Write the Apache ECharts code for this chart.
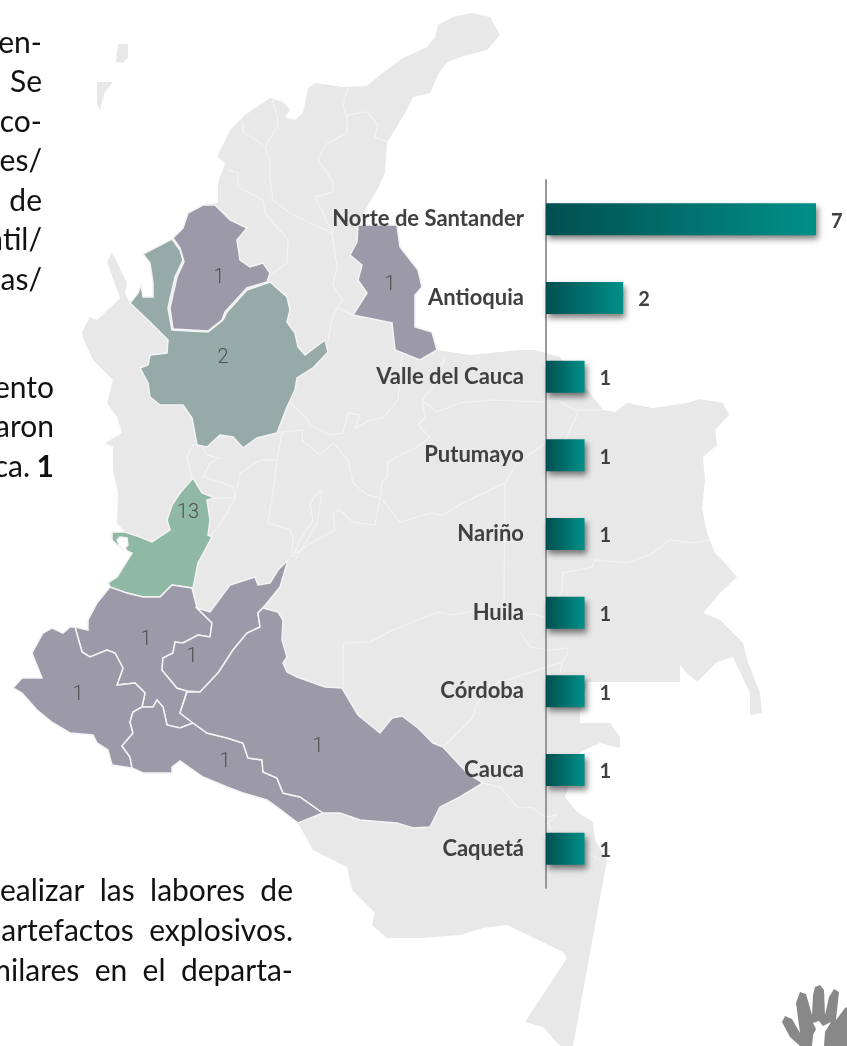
<!DOCTYPE html>
<html>
<head>
<meta charset="utf-8">
<title>Departamentos</title>
<script src="https://cdn.jsdelivr.net/npm/echarts@6/dist/echarts.min.js"></script>
<style>
  html, body { margin: 0; padding: 0; background: #fff; }
  #main { width: 847px; height: 1046px; }
</style>
</head>
<body>
<div id="main"></div>
<script>
// barras
const categorias = ['Norte de Santander', 'Antioquia', 'Valle del Cauca', 'Putumayo', 'Nariño', 'Huila', 'Córdoba', 'Cauca', 'Caquetá'];
const valores = [7, 2, 1, 1, 1, 1, 1, 1, 1];

// conteos del mapa
const regionesMapa = ['Córdoba', 'Antioquia', 'Norte de Santander', 'Valle del Cauca', 'Cauca', 'Huila', 'Nariño', 'Putumayo', 'Caquetá'];
const casosMapa = [1, 2, 1, 13, 1, 1, 1, 1, 1];

// texto de la pagina, cortado por el borde como en el original
const textoArriba = ['en-', 'Se', 'co-', 'es/', 'de', 'ntil/', 'as/'];
const textoMedio = ['ento', 'aron'];
const textoAbajo = ['ealizar  las  labores  de', 'artefactos  explosivos.', 'milares  en  el  departa-'];

// contornos trazados a mano sobre la imagen
const contornoPais = [[470,13],[490,17],[500,35],[487,50],[467,55],[447,62],[438,75],[430,93],[413,97],[405,113],[393,133],[387,142],[385,173],[377,190],[367,207],[358,225],[397,225],[400,247],[418,270],[422,287],[415,295],[415,327],[432,332],[437,350],[470,355],[520,350],[535,350],[560,357],[590,393],[603,410],[615,412],[627,403],[653,408],[687,403],[700,399],[723,403],[729,415],[715,430],[717,445],[703,457],[705,480],[702,508],[707,533],[715,553],[725,563],[737,577],[720,593],[703,613],[720,620],[743,643],[748,662],[760,693],[762,713],[750,715],[750,693],[733,657],[717,662],[697,682],[687,673],[680,665],[680,682],[587,682],[580,713],[580,723],[610,723],[620,737],[620,748],[600,743],[580,752],[565,797],[577,812],[593,822],[595,840],[607,860],[573,1046],[560,1046],[543,1027],[525,1022],[567,958],[563,952],[532,937],[507,925],[483,928],[460,935],[420,938],[387,938],[372,925],[375,913],[352,890],[347,867],[313,850],[298,823],[277,807],[267,800],[243,793],[227,787],[203,777],[180,761],[172,767],[172,773],[143,773],[132,768],[112,765],[108,750],[97,743],[93,735],[70,733],[53,723],[37,710],[22,693],[13,688],[22,678],[42,678],[38,668],[32,653],[43,633],[52,628],[63,633],[70,627],[88,630],[88,620],[97,603],[110,588],[117,577],[132,553],[127,551],[125,548],[128,545],[127,538],[120,537],[117,540],[119,545],[122,549],[116,544],[112,540],[112,532],[125,532],[117,523],[118,493],[113,470],[113,447],[105,443],[122,433],[117,417],[107,403],[113,380],[93,360],[83,338],[82,332],[90,317],[97,320],[113,305],[120,298],[107,262],[112,252],[127,283],[125,293],[130,303],[138,293],[141,285],[143,297],[153,297],[153,283],[150,263],[143,254],[172,239],[183,228],[188,213],[203,205],[218,203],[218,183],[225,163],[217,157],[230,130],[245,115],[270,98],[283,102],[290,110],[285,117],[295,120],[303,113],[308,88],[315,83],[343,87],[367,86],[380,75],[403,58],[427,47],[435,37],[438,25],[453,17]];
const islaSanAndres = [[118,44],[128,44],[128,58],[122,63],[116,62]];
const islaProvidencia = [[97,82],[113,82],[105,92],[100,110],[97,105]];
const limitesInternos = [
  [[272,98],[277,117],[278,125],[265,147],[270,163],[270,177],[273,200],[290,213],[310,223],[332,233]],
  [[243,122],[243,132],[263,145]],
  [[228,170],[238,173],[238,187],[263,200],[265,213],[288,240],[287,263],[272,273]],
  [[348,87],[343,107],[347,117],[347,133],[325,145],[318,160],[333,182],[333,192],[315,197],[332,232],[337,267],[333,285],[343,300],[337,308],[353,315]],
  [[347,115],[367,112],[378,125],[375,137],[387,142]],
  [[337,308],[332,320],[328,340]],
  [[392,323],[395,350]],
  [[290,403],[307,418],[310,425],[330,435],[343,433],[348,413],[360,415],[355,428],[370,420],[383,418],[398,400],[400,373],[402,355]],
  [[445,357],[433,387],[422,400],[425,417],[418,425],[430,437],[417,447],[397,457],[388,462],[387,477],[382,482],[380,497]],
  [[422,400],[437,412],[460,403],[493,400],[543,402],[557,400],[575,410],[603,410]],
  [[578,413],[565,440],[543,445],[517,463],[505,483],[463,503],[443,515],[430,513],[400,522],[380,497]],
  [[505,483],[504,603]],
  [[282,432],[303,430],[302,440],[320,455],[333,443],[348,460],[353,483],[367,495],[380,498],[375,525],[353,522],[340,510],[333,513],[335,530],[313,542],[290,557]],
  [[282,432],[277,460],[273,490],[268,523],[290,530],[293,537],[292,553]],
  [[260,460],[277,460]],
  [[320,490],[310,503],[313,520],[300,540],[293,557]],
  [[320,490],[322,492],[317,523],[303,547],[295,560]],
  [[193,445],[187,457],[190,470],[192,478]],
  [[193,445],[220,437],[282,432]],
  [[203,448],[207,455],[220,458],[210,463],[203,477],[220,482],[233,487],[235,498],[215,498]],
  [[235,498],[225,517],[210,537]],
  [[235,498],[240,473],[260,460]],
  [[343,643],[343,688]],
  [[343,643],[370,642],[393,630],[413,622],[437,612],[453,615],[477,610],[515,612],[537,615],[545,617],[550,612],[562,590],[563,573],[592,567],[595,560],[627,563],[653,553],[670,540],[693,543],[710,540]],
  [[520,632],[530,647],[550,650],[568,648],[567,655],[562,662],[560,673]],
  [[443,747],[473,717],[477,703],[497,683],[547,667],[562,662]],
  [[483,783],[500,787],[517,807],[533,808],[545,817],[557,815],[548,823],[555,837]],
  [[588,853],[600,860]]
];
const formaCordoba = [[173,238],[183,228],[188,213],[203,205],[215,205],[230,220],[247,228],[237,240],[240,260],[250,267],[263,263],[270,273],[267,282],[247,288],[225,312],[222,320],[208,331],[173,329],[170,308],[177,277],[184,262],[180,248]];
const formaAntioquia = [[172,239],[143,254],[150,263],[153,283],[153,297],[143,297],[141,285],[138,293],[130,303],[150,322],[168,340],[167,353],[150,355],[148,365],[140,368],[148,383],[150,397],[160,405],[183,405],[192,418],[197,445],[207,447],[220,435],[233,437],[243,448],[257,438],[277,433],[287,407],[295,390],[297,378],[313,368],[328,352],[325,340],[305,355],[298,347],[295,333],[287,322],[290,310],[287,297],[270,282],[247,290],[227,312],[223,320],[208,332],[172,330],[168,308],[175,277],[183,260],[180,250]];
const formaNorte = [[358,225],[397,225],[400,247],[418,270],[422,287],[415,295],[415,327],[432,332],[437,350],[420,360],[395,350],[392,323],[353,315],[367,293],[358,280],[362,265],[350,255],[357,242]];
const formaValle = [[108,583],[117,577],[132,553],[127,551],[125,548],[128,545],[127,538],[120,537],[117,540],[119,545],[122,549],[116,544],[112,540],[112,532],[125,532],[140,537],[152,542],[170,530],[167,520],[172,505],[180,493],[193,478],[202,493],[215,498],[207,500],[210,520],[208,535],[212,537],[198,563],[193,588],[172,585],[160,597],[143,597],[127,593],[115,595]];
const formaCauca = [[110,587],[127,593],[143,597],[160,597],[172,585],[192,588],[197,608],[212,623],[210,637],[198,635],[183,643],[175,642],[173,653],[163,658],[162,670],[177,688],[187,691],[180,713],[193,723],[180,728],[167,725],[163,707],[157,700],[153,707],[142,707],[145,693],[135,683],[117,685],[123,668],[115,653],[107,650],[90,657],[82,652],[75,627],[88,630],[88,620],[97,603]];
const formaHuila = [[197,608],[210,612],[230,585],[255,577],[258,585],[270,583],[278,570],[288,560],[280,587],[267,603],[258,613],[260,627],[247,633],[233,650],[218,673],[200,692],[187,691],[177,688],[162,670],[163,658],[173,653],[175,642],[183,643],[198,635],[210,637],[212,623]];
const formaNarino = [[13,688],[22,678],[42,678],[38,668],[32,653],[43,633],[52,628],[63,633],[70,627],[75,627],[82,652],[90,657],[107,650],[115,653],[123,668],[117,685],[135,683],[145,693],[142,707],[133,712],[130,722],[133,733],[122,746],[130,757],[132,768],[112,765],[108,750],[97,743],[93,735],[70,733],[53,723],[37,710],[22,693]];
const formaPutumayo = [[142,707],[153,707],[157,700],[163,707],[167,725],[180,728],[193,723],[207,733],[227,738],[243,743],[248,758],[262,760],[263,772],[277,778],[283,793],[300,797],[323,813],[298,823],[277,807],[267,800],[243,793],[227,787],[203,777],[180,761],[172,767],[172,773],[143,773],[132,768],[130,757],[122,746],[133,733],[130,722],[133,712]];
const formaCaqueta = [[187,692],[200,692],[218,673],[233,650],[247,633],[260,627],[258,613],[263,608],[278,612],[283,620],[282,640],[287,657],[283,663],[287,672],[297,677],[325,687],[342,688],[358,715],[380,733],[392,718],[402,716],[418,728],[433,743],[443,747],[467,773],[483,783],[460,797],[440,807],[430,827],[413,828],[397,823],[360,820],[340,813],[323,813],[300,797],[283,793],[277,778],[263,772],[262,760],[248,758],[243,743],[227,738],[207,733],[193,723],[180,713]];
const manoLogo = [[800,1046],[790,1037],[782,1022],[785,1016],[792,1019],[800,1033],[796,1003],[800,992],[806,994],[812,1015],[813,995],[815,987],[820,985],[824,990],[825,1015],[829,997],[834,989],[839,992],[836,1020],[845,1008],[847,1007],[847,1046]];
const soldadoLogo = [[812,1046],[813,1035],[816,1029],[813,1023],[819,1021],[823,1026],[831,1022],[825,1032],[824,1046]];

const formas = [formaCordoba, formaAntioquia, formaNorte, formaValle, formaCauca, formaHuila, formaNarino, formaPutumayo, formaCaqueta];
const centrosEtiqueta = [[219,278],[223,358],[390,285],[188,513],[146,640],[192,657],[78,695],[225,762],[318,747]];

function cerrar(anillo) {
    return anillo.concat([anillo[0]]);
}

function colorPorCasos(n) {
    if (n >= 13) return '#8fb8a5';
    if (n === 2) return '#96aba7';
    return '#9c99a9';
}

const mapaGeo = {
    type: 'FeatureCollection',
    features: [
        {
            type: 'Feature',
            properties: { name: 'Colombia' },
            geometry: {
                type: 'MultiPolygon',
                coordinates: [[cerrar(contornoPais)], [cerrar(islaSanAndres)], [cerrar(islaProvidencia)]]
            }
        },
        {
            type: 'Feature',
            properties: { name: 'Limites' },
            geometry: { type: 'MultiLineString', coordinates: limitesInternos }
        }
    ].concat(regionesMapa.map((nombre, i) => ({
        type: 'Feature',
        properties: { name: nombre, cp: centrosEtiqueta[i] },
        geometry: { type: 'Polygon', coordinates: [cerrar(formas[i])] }
    })))
};

echarts.registerMap('colombia', mapaGeo);

function lineaTexto(t, x, y, peso) {
    return {
        type: 'text',
        silent: true,
        z: 20,
        style: {
            text: t,
            x: x,
            y: y,
            textAlign: 'right',
            textVerticalAlign: 'middle',
            fill: '#111',
            font: (peso || '') + ' 30px Lato'
        }
    };
}

function lineasTexto(lineas, xDer, yIni, paso) {
    return lineas.map((t, i) => lineaTexto(t, xDer, yIni + i * paso));
}

const chart = echarts.init(document.getElementById('main'));

const regionesEstilo = [
    { name: 'Colombia', label: { show: false }, itemStyle: { areaColor: '#e8e8e8', borderColor: '#e8e8e8', borderWidth: 0 } },
    { name: 'Limites', label: { show: false }, itemStyle: { areaColor: 'transparent', color: 'transparent', borderColor: '#f3f3f3', borderWidth: 1.2 } }
].concat(regionesMapa.map((nombre, i) => ({
    name: nombre,
    itemStyle: { areaColor: colorPorCasos(casosMapa[i]), borderColor: '#f4f4f4', borderWidth: 1.5 }
})));

chart.setOption({
    animation: false,
    backgroundColor: '#fff',
    geo: {
        map: 'colombia',
        silent: true,
        roam: false,
        left: 0,
        top: 0,
        width: 847,
        height: 1046,
        projection: {
            project: p => p,
            unproject: p => p
        },
        boundingCoords: [[0, 0], [847, 1046]],
        label: {
            show: true,
            color: '#505050',
            fontSize: 20,
            fontFamily: 'Roboto',
            fontWeight: 300,
            formatter: p => String(casosMapa[regionesMapa.indexOf(p.name)])
        },
        regions: regionesEstilo
    },
    grid: { left: 546, top: 180, width: 270, height: 708, containLabel: false },
    xAxis: { type: 'value', min: 0, max: 7, show: false },
    yAxis: {
        type: 'category',
        data: categorias,
        inverse: true,
        axisTick: { show: false },
        axisLine: { lineStyle: { color: '#999', width: 2 } },
        axisLabel: {
            margin: 22,
            color: '#404040',
            fontFamily: 'Lato',
            fontWeight: 'bold',
            fontSize: 22
        }
    },
    series: [{
        type: 'bar',
        data: valores,
        barWidth: 32,
        z: 5,
        itemStyle: {
            color: new echarts.graphic.LinearGradient(0, 0, 1, 0, [
                { offset: 0, color: '#004f50' },
                { offset: 1, color: '#009088' }
            ]),
            shadowColor: 'rgba(0,0,0,0.5)',
            shadowBlur: 6,
            shadowOffsetX: 2,
            shadowOffsetY: 4
        },
        label: {
            show: true,
            position: 'right',
            distance: 15,
            color: '#404040',
            fontFamily: 'Lato',
            fontWeight: 'bold',
            fontSize: 20,
            offset: [0, 2]
        }
    }],
    graphic: {
        elements: lineasTexto(textoArriba, 42, 43, 39.5)
            .concat(lineasTexto(textoMedio, 54, 388, 39.5))
            .concat(lineasTexto(textoAbajo, 293, 891, 40))
            .concat([
                lineaTexto('ca.', 30, 467),
                lineaTexto('1', 54, 467, 'bold'),
                { type: 'polygon', silent: true, z: 20, shape: { points: manoLogo }, style: { fill: '#888' } },
                { type: 'polygon', silent: true, z: 21, shape: { points: soldadoLogo }, style: { fill: '#fff' } }
            ])
    }
});
</script>
</body>
</html>
